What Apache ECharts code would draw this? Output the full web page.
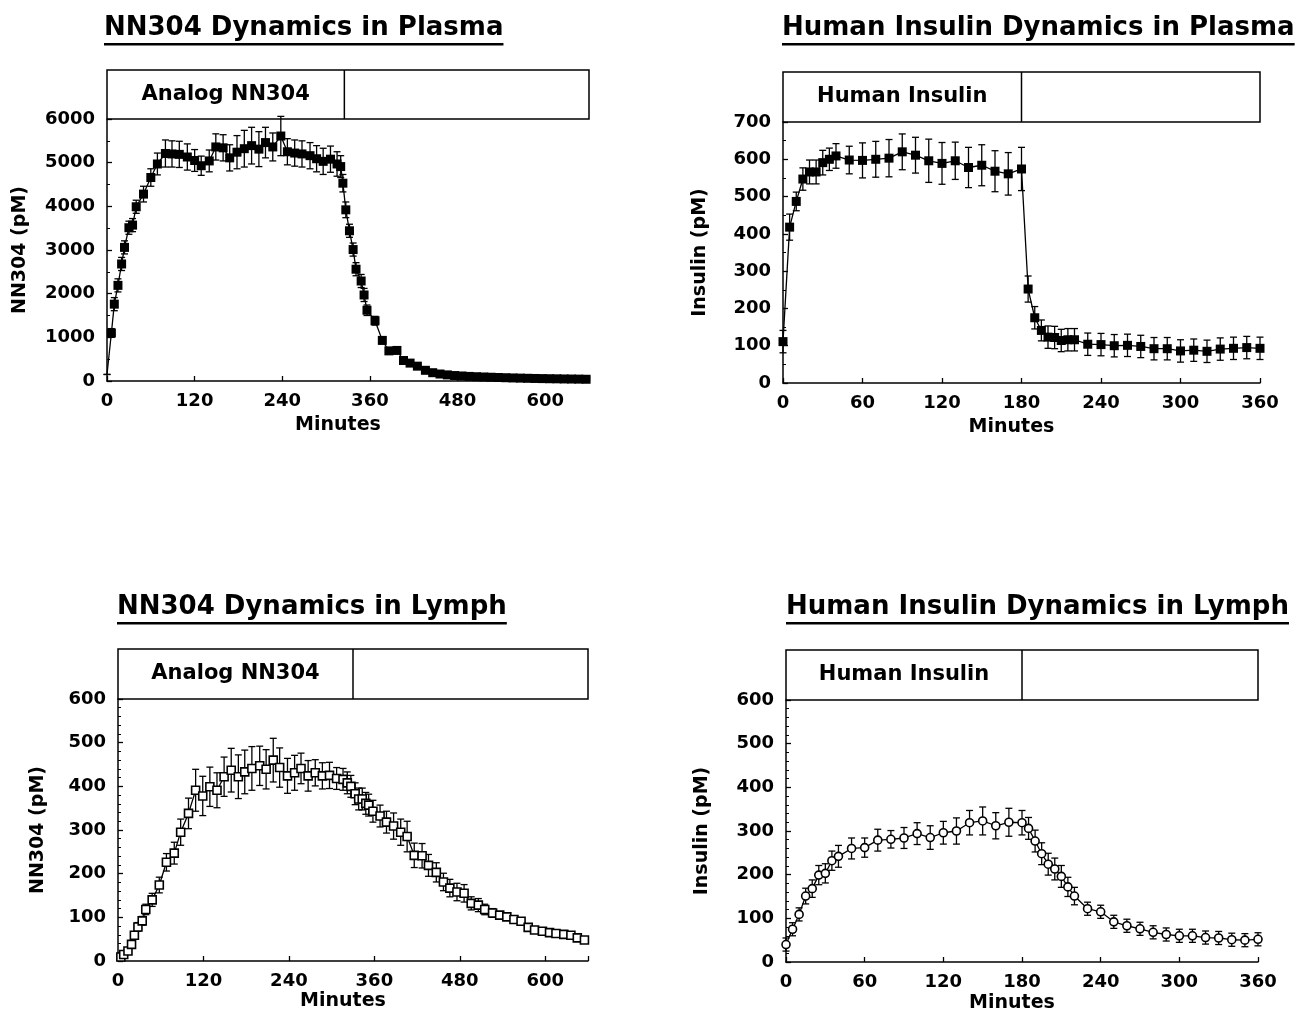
<!DOCTYPE html>
<html>
<head>
<meta charset="utf-8">
<script src="https://cdn.jsdelivr.net/npm/echarts@6/dist/echarts.min.js"></script>
<style>
  html, body { margin: 0; padding: 0; background: #fff; }
  #chart { width: 1300px; height: 1018px; }
</style>
</head>
<body>
<div id="chart"></div>
<script>
// NN304 in plasma (minutes, pM, +/- SD)
var nnPlasmaT = [0, 6, 10, 15, 20, 24, 30, 35, 40, 50, 60, 69, 80, 89, 99, 110, 120, 129, 140, 149, 159, 168, 178, 188, 198, 208, 217, 227, 238, 247, 257, 267, 278, 287, 296, 306, 315, 320, 323, 327, 332, 337, 341, 348, 352, 356, 367, 377, 386, 397, 406, 415, 425, 436, 446, 456, 466, 476, 486, 496, 506, 516, 526, 536, 546, 556, 566, 576, 586, 596, 606, 616, 626, 636, 646, 656];
var nnPlasmaV = [150, 1100, 1760, 2190, 2680, 3060, 3510, 3570, 3990, 4280, 4660, 4970, 5210, 5200, 5190, 5130, 5050, 4930, 5040, 5360, 5340, 5110, 5240, 5320, 5390, 5310, 5460, 5360, 5610, 5250, 5220, 5200, 5160, 5090, 5030, 5080, 4970, 4910, 4530, 3920, 3440, 3010, 2560, 2290, 1970, 1620, 1380, 930, 690, 700, 470, 410, 340, 245, 190, 160, 140, 125, 115, 105, 98, 92, 86, 80, 75, 70, 66, 62, 58, 55, 52, 50, 47, 45, 43, 40];
var nnPlasmaE = [0, 100, 150, 150, 150, 150, 150, 150, 150, 180, 200, 250, 310, 300, 300, 300, 250, 220, 250, 300, 300, 300, 380, 420, 420, 400, 350, 320, 450, 300, 300, 300, 300, 300, 300, 300, 280, 250, 200, 180, 150, 150, 150, 150, 150, 120, 100, 80, 60, 60, 50, 40, 35, 30, 25, 20, 20, 18, 16, 15, 14, 13, 12, 11, 10, 10, 10, 10, 10, 10, 10, 10, 10, 10, 10, 10];

// Human insulin in plasma
var hiPlasmaT = [0, 5, 10, 15, 20, 25, 30, 35, 40, 50, 60, 70, 80, 90, 100, 110, 120, 130, 140, 150, 160, 170, 180, 185, 190, 195, 200, 205, 210, 215, 220, 230, 240, 250, 260, 270, 280, 290, 300, 310, 320, 330, 340, 350, 360];
var hiPlasmaV = [111, 418, 487, 547, 566, 566, 591, 600, 609, 598, 597, 600, 603, 620, 611, 596, 589, 596, 578, 584, 568, 561, 574, 252, 175, 141, 123, 122, 114, 116, 116, 104, 103, 100, 101, 98, 92, 92, 86, 88, 85, 91, 93, 95, 93];
var hiPlasmaE = [30, 35, 25, 30, 32, 32, 33, 30, 33, 37, 47, 48, 50, 48, 48, 58, 56, 50, 54, 55, 55, 57, 58, 35, 30, 28, 30, 30, 30, 30, 30, 30, 30, 30, 30, 30, 30, 30, 30, 30, 30, 30, 30, 30, 30];

// NN304 in lymph
var nnLymphT = [4, 8, 14, 19, 23, 28, 34, 39, 48, 58, 68, 79, 88, 99, 109, 119, 129, 139, 149, 159, 169, 178, 188, 199, 208, 218, 227, 238, 248, 257, 267, 277, 287, 297, 307, 316, 322, 327, 333, 338, 343, 348, 352, 358, 368, 377, 387, 397, 406, 416, 427, 436, 447, 457, 466, 476, 486, 496, 506, 515, 526, 536, 546, 556, 566, 576, 585, 596, 606, 615, 626, 636, 645, 655];
var nnLymphV = [9, 15, 23, 38, 59, 78, 92, 118, 140, 174, 226, 247, 295, 338, 391, 378, 399, 391, 422, 437, 422, 433, 441, 447, 439, 460, 443, 424, 431, 441, 424, 431, 424, 425, 418, 416, 408, 400, 383, 371, 371, 361, 357, 343, 332, 318, 309, 295, 285, 242, 241, 219, 203, 181, 167, 158, 155, 132, 128, 118, 110, 105, 101, 95, 91, 77, 71, 68, 65, 63, 61, 59, 53, 48];
var nnLymphE = [3, 4, 5, 6, 8, 10, 10, 12, 15, 18, 20, 25, 30, 35, 48, 45, 45, 40, 45, 50, 50, 50, 50, 45, 45, 50, 45, 40, 40, 35, 35, 30, 30, 30, 25, 25, 25, 25, 25, 25, 25, 25, 25, 25, 25, 25, 30, 30, 35, 28, 28, 25, 22, 20, 20, 20, 20, 15, 15, 12, 10, 8, 6, 5, 5, 5, 5, 4, 4, 4, 4, 4, 4, 4];

// Human insulin in lymph
var hiLymphT = [0, 5, 10, 15, 20, 25, 30, 35, 40, 50, 60, 70, 80, 90, 100, 110, 120, 130, 140, 150, 160, 170, 180, 185, 190, 195, 200, 205, 210, 215, 220, 230, 240, 250, 260, 270, 280, 290, 300, 310, 320, 330, 340, 350, 360];
var hiLymphV = [40, 75, 109, 151, 168, 199, 203, 232, 242, 260, 262, 279, 281, 284, 294, 285, 296, 300, 319, 323, 312, 320, 319, 306, 277, 248, 224, 213, 196, 172, 151, 122, 115, 92, 83, 76, 68, 63, 60, 60, 56, 55, 51, 50, 52];
var hiLymphE = [15, 15, 15, 18, 20, 22, 22, 22, 25, 24, 22, 25, 20, 24, 25, 27, 26, 30, 28, 32, 30, 32, 28, 25, 25, 25, 25, 25, 25, 22, 20, 15, 15, 15, 15, 15, 15, 15, 15, 15, 15, 15, 15, 15, 15];

var titles = ['NN304 Dynamics in Plasma', 'Human Insulin Dynamics in Plasma', 'NN304 Dynamics in Lymph', 'Human Insulin Dynamics in Lymph'];
var boxLabels = ['Analog NN304', 'Human Insulin', 'Analog NN304', 'Human Insulin'];
var infusionStop = [325, 180, 330, 180];
var yNames = ['NN304 (pM)', 'Insulin (pM)', 'NN304 (pM)', 'Insulin (pM)'];

var FONT = '"DejaVu Sans", Arial, sans-serif';

var panels = [
  { t: nnPlasmaT, v: nnPlasmaV, e: nnPlasmaE, xMax: 660, xInt: 120, yMax: 6000, yInt: 1000, minor: 2,
    open: false, symbol: 'rect', size: 9, hideFirst: true,
    plot: { left: 107, top: 119, width: 482, height: 262 }, boxTop: 70,
    yGap: 77, xGap: 35, titleAt: [104, 28] },
  { t: hiPlasmaT, v: hiPlasmaV, e: hiPlasmaE, xMax: 360, xInt: 60, yMax: 700, yInt: 100, minor: 2,
    open: false, symbol: 'rect', size: 9, hideFirst: false,
    plot: { left: 783, top: 122, width: 477, height: 261 }, boxTop: 72,
    yGap: 73, xGap: 35, titleAt: [782, 28] },
  { t: nnLymphT, v: nnLymphV, e: nnLymphE, xMax: 660, xInt: 120, yMax: 600, yInt: 100, minor: 5,
    open: true, symbol: 'rect', size: 8, hideFirst: false,
    plot: { left: 118, top: 699, width: 470, height: 262 }, boxTop: 649,
    yGap: 70, xGap: 31, titleAt: [117, 607] },
  { t: hiLymphT, v: hiLymphV, e: hiLymphE, xMax: 360, xInt: 60, yMax: 600, yInt: 100, minor: 5,
    open: true, symbol: 'circle', size: 8, hideFirst: false,
    plot: { left: 786, top: 700, width: 472, height: 262 }, boxTop: 650,
    yGap: 74, xGap: 32, titleAt: [786, 607] }
];

function errRender(params, api) {
  var x = api.value(0);
  var lo = api.coord([x, api.value(1)]);
  var hi = api.coord([x, api.value(2)]);
  var w = 3.5;
  var st = { stroke: '#000', lineWidth: 1.3 };
  return {
    type: 'group',
    children: [
      { type: 'line', shape: { x1: lo[0], y1: lo[1], x2: hi[0], y2: hi[1] }, style: st },
      { type: 'line', shape: { x1: hi[0] - w, y1: hi[1], x2: hi[0] + w, y2: hi[1] }, style: st },
      { type: 'line', shape: { x1: lo[0] - w, y1: lo[1], x2: lo[0] + w, y2: lo[1] }, style: st }
    ]
  };
}

function boxRender(label) {
  return function (params, api) {
    var stop = api.value(0);
    var top = api.coord([stop, 1]);
    var bot = api.coord([stop, 0]);
    var mid = api.coord([stop / 2, 0.5]);
    return {
      type: 'group',
      children: [
        { type: 'line', shape: { x1: top[0], y1: top[1], x2: bot[0], y2: bot[1] },
          style: { stroke: '#000', lineWidth: 1.5 } },
        { type: 'text', x: mid[0], y: mid[1],
          style: { text: label, fill: '#000', font: 'bold 21px ' + FONT, align: 'center', verticalAlign: 'middle' } }
      ]
    };
  };
}

var grid = [], xAxis = [], yAxis = [], series = [], graphic = [];
var measure = document.createElement('canvas').getContext('2d');
measure.font = 'bold 26px ' + FONT;

var labelStyle = { color: '#000', fontWeight: 'bold', fontSize: 18, fontFamily: FONT };
var nameStyle = { color: '#000', fontWeight: 'bold', fontSize: 19, fontFamily: FONT };

panels.forEach(function (p, i) {
  var g = i * 2;
  // plot area
  grid.push({ left: p.plot.left, top: p.plot.top, width: p.plot.width, height: p.plot.height, show: false });
  // labelled box above the plot
  grid.push({ left: p.plot.left, top: p.boxTop, width: p.plot.width, height: p.plot.top - p.boxTop,
    show: true, borderColor: '#000', borderWidth: 1.5, backgroundColor: '#fff' });

  xAxis.push({
    gridIndex: g, type: 'value', min: 0, max: p.xMax, interval: p.xInt,
    axisLine: { show: true, onZero: false, lineStyle: { color: '#000', width: 1.5 } },
    axisTick: { show: true, inside: true, length: 5, lineStyle: { color: '#000', width: 1.3 } },
    axisLabel: Object.assign({ margin: 11, formatter: function (val) { return val % p.xInt === 0 ? String(val) : ''; } }, labelStyle),
    splitLine: { show: false },
    name: 'Minutes', nameLocation: 'middle', nameGap: p.xGap,
    nameTextStyle: Object.assign({ padding: [0, 20, 0, 0] }, nameStyle)
  });
  xAxis.push({ gridIndex: g + 1, type: 'value', min: 0, max: p.xMax, show: false });

  yAxis.push({
    gridIndex: g, type: 'value', min: 0, max: p.yMax, interval: p.yInt,
    axisLine: { show: true, onZero: false, lineStyle: { color: '#000', width: 1.5 } },
    axisTick: { show: true, inside: true, length: 5, lineStyle: { color: '#000', width: 1.3 } },
    minorTick: { show: true, splitNumber: p.minor, length: 3, lineStyle: { color: '#000', width: 1 } },
    axisLabel: Object.assign({ margin: 12, formatter: function (val) { return String(val); } }, labelStyle),
    splitLine: { show: false },
    name: yNames[i], nameLocation: 'middle', nameGap: p.yGap,
    nameTextStyle: nameStyle
  });
  yAxis.push({ gridIndex: g + 1, type: 'value', min: 0, max: 1, show: false });

  var pts = p.t.map(function (t, k) {
    if (k === 0 && p.hideFirst) return { value: [t, p.v[k]], symbolSize: 0 };
    return [t, p.v[k]];
  });
  var bars = p.t.map(function (t, k) { return [t, p.v[k] - p.e[k], p.v[k] + p.e[k]]; });

  series.push({
    type: 'custom', xAxisIndex: g, yAxisIndex: g, renderItem: errRender,
    data: bars, z: 2, silent: true
  });
  series.push({
    type: 'line', xAxisIndex: g, yAxisIndex: g, data: pts,
    symbol: p.symbol, symbolSize: p.size, showSymbol: true,
    lineStyle: { color: '#000', width: 1.3 },
    itemStyle: p.open ? { color: '#fff', borderColor: '#000', borderWidth: 1.6 } : { color: '#000' },
    z: 3, silent: true
  });
  series.push({
    type: 'custom', xAxisIndex: g + 1, yAxisIndex: g + 1, renderItem: boxRender(boxLabels[i]),
    data: [[infusionStop[i]]], z: 4, silent: true
  });

  var tw = measure.measureText(titles[i]).width;
  graphic.push({
    type: 'text', x: p.titleAt[0], y: p.titleAt[1],
    style: { text: titles[i], fill: '#000', font: 'bold 26px ' + FONT, verticalAlign: 'middle' }
  });
  graphic.push({
    type: 'rect', shape: { x: p.titleAt[0], y: p.titleAt[1] + 15, width: tw, height: 2.5 },
    style: { fill: '#000' }
  });
});

var chart = echarts.init(document.getElementById('chart'), null, { renderer: 'canvas' });
chart.setOption({
  animation: false,
  backgroundColor: '#fff',
  grid: grid,
  xAxis: xAxis,
  yAxis: yAxis,
  series: series,
  graphic: graphic
});
</script>
</body>
</html>
